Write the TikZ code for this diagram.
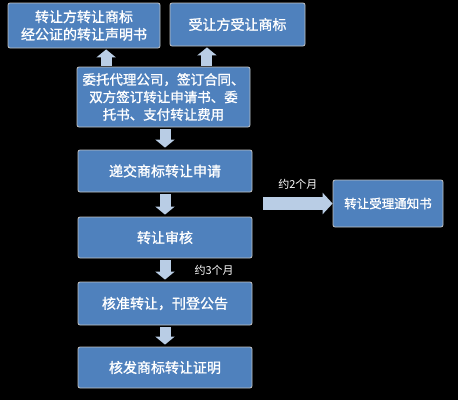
\documentclass[tikz,border=0pt]{standalone}
\usepackage{fontspec}
\newfontfamily\cjk{Noto Sans CJK SC}[AutoFakeBold=1.2]
\usetikzlibrary{arrows.meta,calc}
\definecolor{stepcolor}{RGB}{79,129,189}
\definecolor{arrowcolor}{RGB}{185,205,229}
\definecolor{edgecolor}{RGB}{195,195,195}

\begin{document}
\begin{tikzpicture}[x=1pt, y=-1pt,
    stage/.style={rectangle, draw=edgecolor, line width=0.8pt, fill=stepcolor, rounded corners=2pt, text=white, font=\cjk\bfseries\fontsize{14}{17.5}\selectfont, align=center, inner sep=0pt},
    flow/.style={arrowcolor, line width=11pt, -{Triangle[width=19pt, length=8pt]}, shorten <=2pt, shorten >=2pt},
    note/.style={text=white, font=\cjk\fontsize{11}{13}\selectfont, inner sep=1pt}
]
    % Background
    \fill[black] (0,0) rectangle (458,400);

    % Documents of both parties
    \node[stage, minimum width=152pt, minimum height=45pt] (seller) at (84,25.5) {转让方转让商标\\经公证的转让声明书};
    \node[stage, minimum width=135pt, minimum height=43pt] (buyer) at (237.5,24.5) {受让方受让商标};

    % Agency
    \node[stage, minimum width=173pt, minimum height=60pt, font=\cjk\bfseries\fontsize{13.5}{17.5}\selectfont] (agent) at (163.5,97) {委托代理公司，签订合同、\\双方签订转让申请书、委\\托书、支付转让费用};

    % Main steps
    \node[stage, minimum width=174pt, minimum height=42pt] (submit) at (165,171) {递交商标转让申请};
    \node[stage, minimum width=174pt, minimum height=41pt] (review) at (165,237.5) {转让审核};
    \node[stage, minimum width=174pt, minimum height=43pt] (approve) at (165,303.5) {核准转让，刊登公告};
    \node[stage, minimum width=174pt, minimum height=41pt] (certify) at (165,367.5) {核发商标转让证明};

    % Side result
    \node[stage, minimum width=110pt, minimum height=47pt, font=\cjk\bfseries\fontsize{12.5}{15}\selectfont] (notice) at (388,203.5) {转让受理通知书};

    % Arrows
    \coordinate (in1) at ($(agent.north west)!0.17!(agent.north east)$);
    \coordinate (in2) at ($(agent.north west)!0.75!(agent.north east)$);
    \draw[flow, shorten <=1pt, shorten >=1pt] (in1) -- (in1 |- seller.south);
    \draw[flow, shorten <=1pt, shorten >=1pt] (in2) -- (in2 |- buyer.south);
    \draw[flow] (agent.south -| submit.north) -- (submit.north);
    \draw[flow] (submit) -- (review);
    \draw[flow] (review) -- (approve) node[note, midway, right=23pt] (wait3) {约3个月};
    \draw[flow] (approve) -- (certify);

    \coordinate (fork) at (263,203.5);
    \draw[flow, line width=13pt, -{Triangle[width=21pt, length=10pt]}, shorten <=0pt, shorten >=0pt] (fork) -- (notice.west) node[note, midway, above=7pt] (wait2) {约2个月};
\end{tikzpicture}
\end{document}
